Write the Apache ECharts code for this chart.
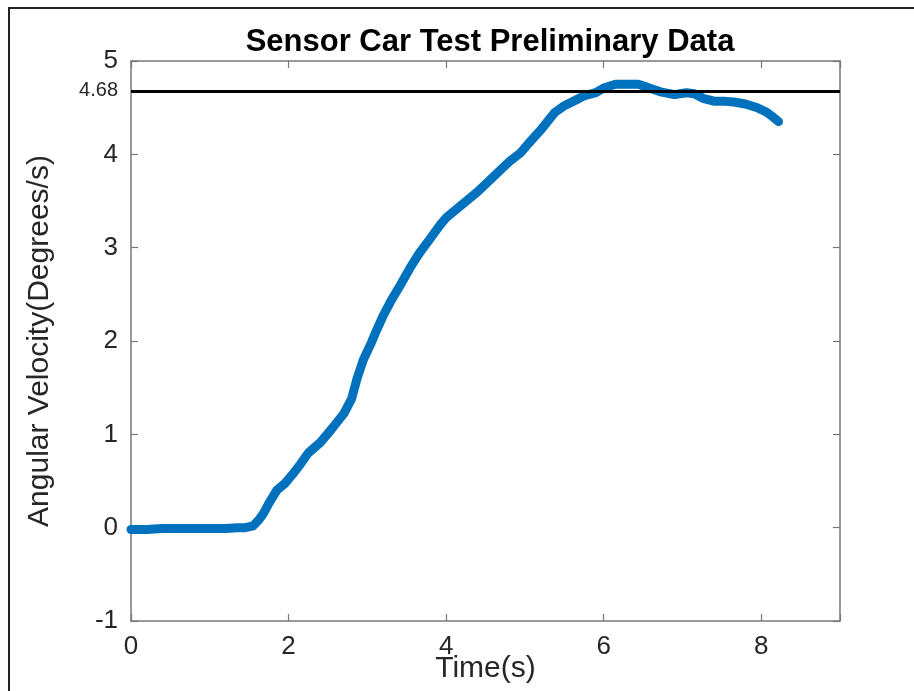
<!DOCTYPE html>
<html>
<head>
<meta charset="utf-8">
<script src="https://cdn.jsdelivr.net/npm/echarts@6/dist/echarts.min.js"></script>
<style>html,body{margin:0;padding:0;background:#fff;}#chart{width:914px;height:691px;}</style>
</head>
<body>
<div id="chart"></div>
<script>
var timeS = [0, 0.2, 0.4, 0.6, 0.8, 1.0, 1.2, 1.35, 1.45, 1.55, 1.62, 1.68, 1.75, 1.85, 1.95, 2.05, 2.15, 2.25, 2.4, 2.55, 2.7, 2.8, 2.87, 2.95, 3.05, 3.12, 3.2, 3.3, 3.42, 3.54, 3.66, 3.8, 3.92, 4.0, 4.2, 4.4, 4.6, 4.8, 4.95, 5.05, 5.2, 5.38, 5.5, 5.62, 5.76, 5.9, 6.0, 6.15, 6.3, 6.44, 6.55, 6.72, 6.9, 7.05, 7.15, 7.26, 7.4, 7.52, 7.65, 7.8, 7.95, 8.07, 8.15, 8.22];
var angVel = [-0.02, -0.02, -0.01, -0.01, -0.01, -0.01, -0.01, 0.0, 0.0, 0.02, 0.08, 0.15, 0.26, 0.4, 0.47, 0.57, 0.68, 0.8, 0.91, 1.06, 1.22, 1.38, 1.6, 1.8, 1.98, 2.12, 2.27, 2.43, 2.6, 2.78, 2.94, 3.1, 3.24, 3.32, 3.46, 3.6, 3.76, 3.92, 4.02, 4.12, 4.26, 4.45, 4.52, 4.57, 4.63, 4.66, 4.71, 4.75, 4.75, 4.75, 4.72, 4.67, 4.64, 4.66, 4.65, 4.6, 4.57, 4.57, 4.56, 4.54, 4.5, 4.45, 4.4, 4.35];
var refLevel = 4.68;
var xTicks = [0, 2, 4, 6, 8];
var yTicks = [-1, 0, 1, 2, 3, 4, 5];

var pts = timeS.map(function (t, i) { return [t, angVel[i]]; });
var font = '"Liberation Sans", Arial, Helvetica, sans-serif';
var axisCol = '#777777';
var txtCol = '#262626';

var chart = echarts.init(document.getElementById('chart'));
function mkAxis(extra) {
  return Object.assign({
    axisLine: { show: true, onZero: false, lineStyle: { color: axisCol, width: 1.5 } },
    axisTick: { show: true, inside: true, length: 7, lineStyle: { color: axisCol, width: 1.2 } },
    splitLine: { show: false }
  }, extra);
}
chart.setOption({
  animation: false,
  backgroundColor: '#fff',
  title: {
    text: 'Sensor Car Test Preliminary Data',
    left: 485, top: 22, textAlign: 'center',
    textStyle: { fontFamily: font, fontWeight: 'bold', fontSize: 31, color: '#000' }
  },
  graphic: [{
    type: 'rect', shape: { x: 9, y: 8, width: 930, height: 720 },
    style: { fill: null, stroke: '#222', lineWidth: 2 }, silent: true
  }],
  grid: { left: 131, right: 74, top: 61, bottom: 70, containLabel: false, outerBoundsMode: 'none' },
  xAxis: [
    mkAxis({
      type: 'value', min: 0, max: 9, interval: 2, position: 'bottom',
      name: 'Time(s)', nameLocation: 'middle', nameGap: 33, nameMoveOverlap: false,
      nameTextStyle: { fontFamily: font, fontSize: 30, color: txtCol, verticalAlign: 'top' },
      axisLabel: { fontFamily: font, fontSize: 26, color: txtCol, margin: 13,
        formatter: function (v) { return xTicks.indexOf(v) >= 0 ? String(v) : ''; } }
    }),
    mkAxis({
      type: 'value', min: 0, max: 9, interval: 2, position: 'top',
      axisLabel: { show: false }
    })
  ],
  yAxis: [
    mkAxis({
      type: 'value', min: -1, max: 5, interval: 1, position: 'left',
      name: 'Angular Velocity(Degrees/s)', nameLocation: 'middle', nameGap: 76, nameRotate: 90, nameMoveOverlap: false,
      nameTextStyle: { fontFamily: font, fontSize: 30, color: txtCol },
      axisLabel: { fontFamily: font, fontSize: 26, color: txtCol, margin: 13,
        formatter: function (v) { return yTicks.indexOf(v) >= 0 ? String(v) : ''; } }
    }),
    mkAxis({
      type: 'value', min: -1, max: 5, interval: 1, position: 'right',
      axisLabel: { show: false }
    })
  ],
  series: [{
    type: 'line',
    data: pts,
    showSymbol: false,
    symbol: 'none',
    lineStyle: { color: '#0072BD', width: 9, cap: 'round', join: 'round' },
    z: 2,
    markLine: {
      silent: true,
      symbol: ['none', 'none'],
      z: 5,
      lineStyle: { color: '#000', width: 3, type: 'solid' },
      label: { show: true, position: 'start', formatter: String(refLevel), fontFamily: font, fontSize: 20, color: txtCol, distance: 13 },
      data: [{ yAxis: refLevel }]
    }
  }]
});
</script>
</body>
</html>
